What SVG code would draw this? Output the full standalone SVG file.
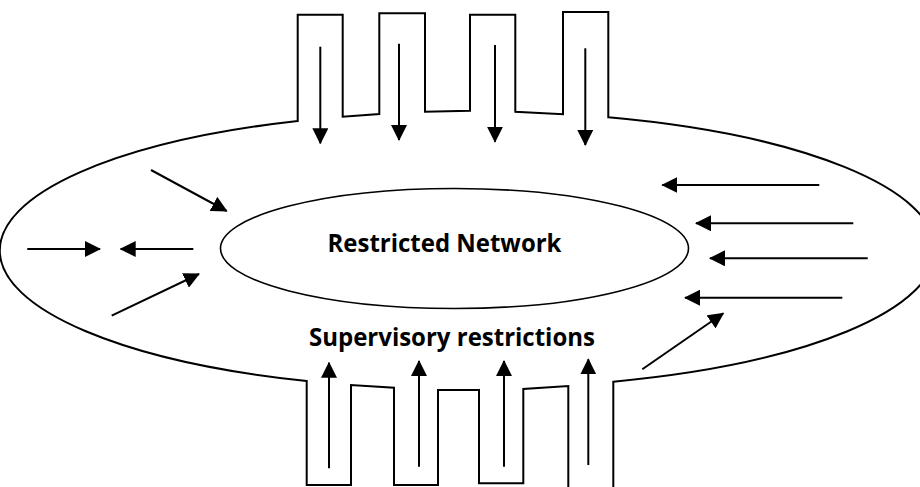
<svg xmlns="http://www.w3.org/2000/svg" width="920" height="487" viewBox="0 0 920 487">
  <defs>
    <marker id="ah" viewBox="0 0 16 16" refX="15" refY="8" markerWidth="16" markerHeight="16" markerUnits="userSpaceOnUse" orient="auto">
      <path d="M0,0 L16,8 L0,16 Z" fill="#000"/>
    </marker>
    <style>
      .outline { fill: none; stroke: #000; stroke-width: 2; stroke-linejoin: miter; }
      .inner { fill: none; stroke: #000; stroke-width: 1.6; }
      .arrow { fill: none; stroke: #000; stroke-width: 2; marker-end: url(#ah); }
      .label { font-family: "Open Sans", "Liberation Sans", sans-serif; font-weight: bold; font-size: 25px; fill: #000; text-anchor: middle; }
    </style>
  </defs>
  <rect width="920" height="487" fill="#fff"/>

  <g id="supervisory-restrictions">
    <path class="outline" d="M568.3,490 L568.3,386 L523.3,389 L523.3,483.3 L479,483.3 L479,390 L438,390 L438,485 L394,485 L394,387.7 L351,385 L351,485 L306.7,485 L306.7,381 A455,138 0 0 1 297.7,121 L297.7,14.7 L342.7,14.7 L342.7,116.7 L379.3,114 L379.3,13.3 L425,13.3 L425,111.7 L470,110.7 L470,14.7 L515.3,14.7 L515.3,111.7 L563,114.3 L563,12 L608.3,12 L608.3,117.3 A455,138 0 0 1 613.3,381.7 L613.3,490"/>
    <text class="label" x="452" y="346" textLength="286" lengthAdjust="spacingAndGlyphs">Supervisory restrictions</text>
  </g>

  <g id="restricted-network">
    <ellipse class="inner" cx="454.5" cy="248.5" rx="234" ry="60"/>
    <text class="label" x="444.5" y="252" textLength="234" lengthAdjust="spacingAndGlyphs">Restricted Network</text>
  </g>

  <g id="connectors">
    <line class="arrow" x1="320.3" y1="46.7" x2="320.3" y2="143.3"/>
    <line class="arrow" x1="399" y1="43.7" x2="399" y2="140"/>
    <line class="arrow" x1="495" y1="45" x2="495" y2="141.7"/>
    <line class="arrow" x1="585.3" y1="48.3" x2="585.3" y2="145"/>
    <line class="arrow" x1="329" y1="468.3" x2="329" y2="362.7"/>
    <line class="arrow" x1="419" y1="466.7" x2="419" y2="361"/>
    <line class="arrow" x1="504" y1="466.7" x2="504" y2="361"/>
    <line class="arrow" x1="588.3" y1="465" x2="588.3" y2="359.3"/>
    <line class="arrow" x1="151" y1="170" x2="226.7" y2="211"/>
    <line class="arrow" x1="27.3" y1="249" x2="100" y2="249"/>
    <line class="arrow" x1="193.3" y1="249" x2="120.7" y2="249"/>
    <line class="arrow" x1="111.7" y1="315.7" x2="199" y2="274"/>
    <line class="arrow" x1="819.3" y1="185" x2="662.3" y2="185"/>
    <line class="arrow" x1="853.3" y1="223.3" x2="696" y2="223.3"/>
    <line class="arrow" x1="867.7" y1="258.3" x2="710" y2="258.3"/>
    <line class="arrow" x1="842.3" y1="297.7" x2="685" y2="297.7"/>
    <line class="arrow" x1="642.3" y1="369.3" x2="723.3" y2="313.3"/>
  </g>
</svg>
